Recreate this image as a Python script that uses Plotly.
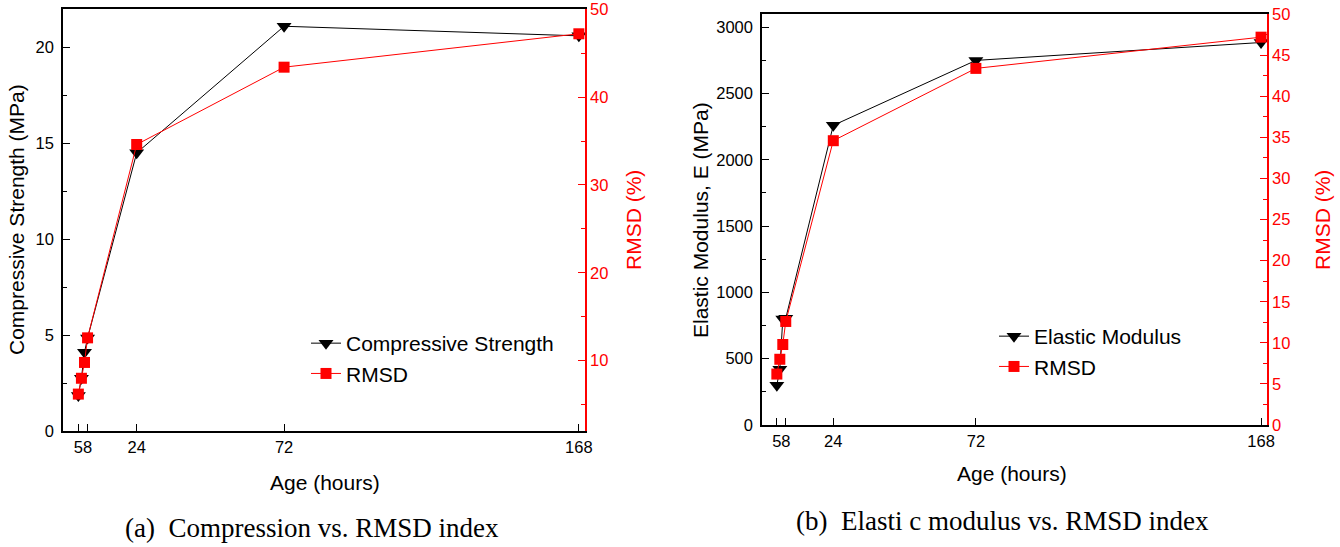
import plotly.graph_objects as go

# ---- data ----
hours = [5, 6, 7, 8, 24, 72, 168]
compressive_strength = [1.85, 2.75, 4.1, 4.85, 14.5, 21.1, 20.6]   # MPa
rmsd = [6.2, 8.0, 9.8, 12.6, 34.6, 43.4, 47.2]                    # %
elastic_modulus = [300, 420, 800, 805, 2260, 2750, 2885]           # MPa
x_tickvals = [5, 8, 24, 72, 168]
x_ticktext = ["5", "8", "24", "72", "168"]

FONT = "Arial, Liberation Sans, sans-serif"
SERIF = "Times New Roman, Liberation Serif, serif"
RED = "#ff0000"

fig = go.Figure()

# (a) compression
fig.add_trace(go.Scatter(x=hours, y=compressive_strength, name="Compressive Strength",
                         mode="lines+markers", line=dict(color="black", width=1),
                         marker=dict(symbol="triangle-down", size=13, color="black"),
                         xaxis="x", yaxis="y", legend="legend", legendgroup="a1"))
fig.add_trace(go.Scatter(x=hours, y=rmsd, name="RMSD",
                         mode="lines+markers", line=dict(color=RED, width=1),
                         marker=dict(symbol="square", size=11, color=RED),
                         xaxis="x", yaxis="y2", legend="legend", legendgroup="a2"))
# (b) elastic modulus
fig.add_trace(go.Scatter(x=hours, y=elastic_modulus, name="Elastic Modulus",
                         mode="lines+markers", line=dict(color="black", width=1),
                         marker=dict(symbol="triangle-down", size=13, color="black"),
                         xaxis="x2", yaxis="y3", legend="legend2", legendgroup="b1"))
fig.add_trace(go.Scatter(x=hours, y=rmsd, name="RMSD",
                         mode="lines+markers", line=dict(color=RED, width=1),
                         marker=dict(symbol="square", size=11, color=RED),
                         xaxis="x2", yaxis="y4", legend="legend2", legendgroup="b2"))

W, H = 1340, 547
def px(a, b):
    return [a / W, b / W]
def py(top, bottom):
    return [1 - bottom / H, 1 - top / H]

tickfont = dict(family=FONT, size=16.5, color="black")
redtick = dict(family=FONT, size=16.5, color=RED)

xcommon = dict(range=[0, 170], tickmode="array", tickvals=x_tickvals, ticktext=x_ticktext,
               tickangle=0, ticks="inside", ticklen=7, tickwidth=1.2, tickcolor="black",
               showline=True, linecolor="black", linewidth=1.5, mirror=True,
               showgrid=False, zeroline=False, tickfont=tickfont, automargin=False,
               ticklabeloverflow="allow")

fig.update_layout(
    width=W, height=H, margin=dict(l=0, r=0, t=0, b=0),
    paper_bgcolor="white", plot_bgcolor="white",
    font=dict(family=FONT, color="black"),
    xaxis=dict(domain=px(63, 585), anchor="y", **xcommon),
    yaxis=dict(domain=py(9, 431), anchor="x", range=[0, 22], tickmode="linear", tick0=0, dtick=5,
               ticks="inside", ticklen=7, tickwidth=1.2, tickcolor="black", ticklabelstandoff=4,
               minor=dict(ticks="inside", ticklen=4, dtick=2.5, tick0=0, tickcolor="black"),
               showline=True, linecolor="black", linewidth=1.5, showgrid=False, zeroline=False,
               tickfont=tickfont, automargin=False, ticklabeloverflow="allow"),
    yaxis2=dict(overlaying="y", side="right", anchor="x", range=[2, 50.02], tickmode="linear",
                tick0=0, dtick=10, ticks="inside", ticklen=7, tickwidth=1.2, tickcolor=RED,
                minor=dict(ticks="inside", ticklen=4, dtick=5, tick0=0, tickcolor=RED),
                showline=True, linecolor=RED, linewidth=1.5, showgrid=False, zeroline=False,
                tickfont=redtick, automargin=False, ticklabeloverflow="allow"),
    xaxis2=dict(domain=px(762, 1267), anchor="y3", **xcommon),
    yaxis3=dict(domain=py(14, 425), anchor="x2", range=[0, 3100], tickmode="linear", tick0=0, dtick=500,
                ticks="inside", ticklen=7, tickwidth=1.2, tickcolor="black", ticklabelstandoff=4,
                minor=dict(ticks="inside", ticklen=4, dtick=250, tick0=0, tickcolor="black"),
                showline=True, linecolor="black", linewidth=1.5, showgrid=False, zeroline=False,
                tickfont=tickfont, automargin=False, ticklabeloverflow="allow"),
    yaxis4=dict(overlaying="y3", side="right", anchor="x2", range=[0, 50.02], tickmode="linear",
                tick0=0, dtick=5, ticks="inside", ticklen=7, tickwidth=1.2, tickcolor=RED,
                minor=dict(ticks="inside", ticklen=4, dtick=2.5, tick0=0, tickcolor=RED),
                showline=True, linecolor=RED, linewidth=1.5, showgrid=False, zeroline=False,
                tickfont=redtick, automargin=False, ticklabeloverflow="allow"),
    legend=dict(x=(348 - 42) / W, y=1 - 323 / H, xanchor="left", yanchor="top",
                bgcolor="rgba(0,0,0,0)", font=dict(family=FONT, size=21, color="black"),
                traceorder="grouped", tracegroupgap=0),
    legend2=dict(x=(1036 - 42) / W, y=1 - 316 / H, xanchor="left", yanchor="top",
                 bgcolor="rgba(0,0,0,0)", font=dict(family=FONT, size=21, color="black"),
                 traceorder="grouped", tracegroupgap=0),
    showlegend=True,
)

ann = []
def title(text, x, y, angle=0, color="black", size=21, family=FONT):
    ann.append(dict(text=text, x=x / W, y=1 - y / H, xref="paper", yref="paper",
                    showarrow=False, textangle=angle, xanchor="center", yanchor="middle",
                    font=dict(family=family, size=size, color=color)))

title("Age (hours)", 325, 482)
title("Compressive Strength (MPa)", 16, 220, angle=-90)
title("RMSD (%)", 633, 220, angle=-90, color=RED)
title("Age (hours)", 1012, 473)
title("Elastic Modulus, E (MPa)", 700, 220, angle=-90)
title("RMSD (%)", 1322, 220, angle=-90, color=RED)
title("(a)  Compression vs. RMSD index", 312, 528, family=SERIF, size=27)
title("(b)  Elasti c modulus vs. RMSD index", 1002, 521, family=SERIF, size=27)
fig.update_layout(annotations=ann)

fig.write_html("out.html")
